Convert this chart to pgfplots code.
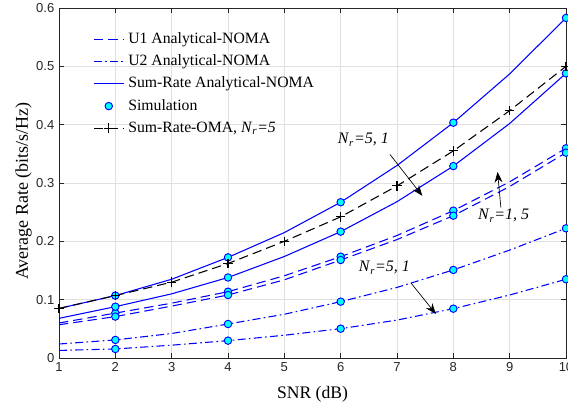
\documentclass[border=0pt]{standalone}
\usepackage{fontspec}
\setmainfont{Liberation Serif}
\newfontfamily\tickfont{Liberation Sans}
\usepackage{pgfplots}
\usepackage{pgfplotstable}
\pgfplotsset{compat=1.18}
\usetikzlibrary{arrows.meta}
\definecolor{simcyan}{rgb}{0,1,1}
\definecolor{lineblue}{rgb}{0,0,1}
\definecolor{axgray}{rgb}{0.15,0.15,0.15}

\pgfplotstableread{
x    sumA   sumB   uA     uB     vA     vB     oma
1    0.085  0.068  0.060  0.057  0.024  0.013  0.085
2    0.107  0.088  0.077  0.071  0.031  0.0155 0.107
3    0.135  0.110  0.094  0.089  0.042  0.022  0.130
4    0.1725 0.138  0.1137 0.108  0.0583 0.0298 0.162
5    0.215  0.174  0.141  0.134  0.075  0.039  0.200
6    0.267  0.2166 0.1737 0.168  0.0966 0.0503 0.242
7    0.330  0.268  0.210  0.203  0.121  0.065  0.295
8    0.4034 0.329  0.2526 0.244  0.151  0.0846 0.355
9    0.487  0.402  0.302  0.294  0.185  0.108  0.424
10   0.583  0.488  0.3595 0.352  0.2223 0.135  0.500
}\lines

\pgfplotstableread{
x    sumA   sumB   uA     uB     vA     vB
2    0.107  0.088  0.077  0.071  0.031  0.0155
4    0.1725 0.138  0.1137 0.108  0.0583 0.0298
6    0.267  0.2166 0.1737 0.168  0.0966 0.0503
8    0.4034 0.329  0.2526 0.244  0.151  0.0846
10   0.583  0.488  0.3595 0.352  0.2223 0.135
}\sims

\begin{document}
\begin{tikzpicture}
\begin{axis}[
  scale only axis,
  width=380.25pt, height=262.5pt,
  xmin=1, xmax=10, ymin=0, ymax=0.6,
  xtick={1,2,3,4,5,6,7,8,9,10},
  ytick={0,0.1,0.2,0.3,0.4,0.5,0.6},
  yticklabel style={/pgf/number format/fixed, /pgf/number format/precision=1},
  /pgf/number format/assume math mode=true,
  ticklabel style={font=\tickfont\fontsize{9.75}{11}\selectfont, text=axgray},
  grid=major,
  grid style={line width=0.4pt, black!12},
  axis line style={axgray, line width=0.5pt},
  tick style={axgray, line width=0.5pt},
  major tick length=4pt,
  xlabel={SNR (dB)},
  ylabel={Average Rate (bits/s/Hz)},
  every axis x label/.style={at={(axis description cs:0.5,0)}, yshift=-27pt, anchor=center, font=\fontsize{13.2}{15}\selectfont},
  every axis y label/.style={at={(axis description cs:0,0.477)}, xshift=-26.6pt, rotate=90, anchor=center, font=\fontsize{13.5}{15}\selectfont},
  legend cell align=left,
  legend style={at={(axis description cs:0.067,0.935)}, anchor=north west, draw=none, fill=none,
    inner sep=0pt, row sep=3.6pt,
    font=\fontsize{11.8}{13}\selectfont,
    nodes={inner xsep=3pt, inner ysep=1pt, text height=8.5pt, text depth=2.5pt}},
]
\addlegendimage{legend image code/.code={\draw[lineblue, line width=0.8pt, dash pattern=on 7pt off 3.8pt] (0pt,0pt) -- (22.5pt,0pt);}}
\addlegendentry{U1 Analytical-NOMA}
\addlegendimage{legend image code/.code={\draw[lineblue, line width=0.8pt, dash pattern=on 6pt off 2.5pt on 1.2pt off 2.5pt] (0pt,0pt) -- (22.5pt,0pt);}}
\addlegendentry{U2 Analytical-NOMA}
\addlegendimage{legend image code/.code={\draw[lineblue, line width=0.8pt] (0pt,0pt) -- (22.5pt,0pt);}}
\addlegendentry{Sum-Rate Analytical-NOMA}
\addlegendimage{legend image code/.code={\draw[lineblue, fill=simcyan, line width=0.7pt] (11.25pt,0pt) circle (2.8pt);}}
\addlegendentry{Simulation}
\addlegendimage{legend image code/.code={\draw[black, line width=0.8pt, dash pattern=on 7pt off 3.8pt] (0pt,0pt) -- (22.5pt,0pt); \draw[black, line width=0.8pt] (11.25pt,0pt) +(-3.6pt,0pt) -- +(3.6pt,0pt) (11.25pt,0pt) +(0pt,-3.6pt) -- +(0pt,3.6pt);}}
\addlegendentry{Sum-Rate-OMA, \textit{N}\textsubscript{\textit{r}}\textit{=5}}

% analytical lines
\addplot[lineblue, line width=0.8pt, dash pattern=on 7pt off 3.8pt, forget plot] table[x=x, y=uA] {\lines};
\addplot[lineblue, line width=0.8pt, dash pattern=on 7pt off 3.8pt, forget plot] table[x=x, y=uB] {\lines};
\addplot[lineblue, line width=0.8pt, dash pattern=on 6pt off 2.5pt on 1.2pt off 2.5pt, forget plot] table[x=x, y=vA] {\lines};
\addplot[lineblue, line width=0.8pt, dash pattern=on 6pt off 2.5pt on 1.2pt off 2.5pt, forget plot] table[x=x, y=vB] {\lines};
\addplot[lineblue, line width=0.8pt, forget plot] table[x=x, y=sumA] {\lines};
\addplot[lineblue, line width=0.8pt, forget plot] table[x=x, y=sumB] {\lines};

% simulation markers
\pgfplotsset{simstyle/.style={only marks, mark=*, mark size=2.8pt, mark options={fill=simcyan, draw=lineblue, line width=0.7pt, solid}, forget plot}}
\addplot[simstyle] table[x=x, y=uA] {\sims};
\addplot[simstyle] table[x=x, y=uB] {\sims};
\addplot[simstyle] table[x=x, y=vA] {\sims};
\addplot[simstyle] table[x=x, y=vB] {\sims};
\addplot[simstyle] table[x=x, y=sumA] {\sims};
\addplot[simstyle] table[x=x, y=sumB] {\sims};

% OMA
\addplot[black, line width=0.8pt, dash pattern=on 7pt off 3.8pt, mark=+, mark size=3.6pt, mark options={solid}, forget plot] table[x=x, y=oma] {\lines};

% annotations
\node[anchor=base west, inner sep=0pt, font=\fontsize{12}{14}\selectfont] at (axis cs:5.945,0.367) {\textit{N}\textsubscript{\textit{r}}\textit{=5, 1}};
\draw[-{Stealth[length=8pt,width=6pt]}, black, line width=0.5pt] (axis cs:6.875,0.349) -- (axis cs:7.45,0.278);

\node[anchor=base west, inner sep=0pt, font=\fontsize{12}{14}\selectfont] at (axis cs:8.435,0.2366) {\textit{N}\textsubscript{\textit{r}}\textit{=1, 5}};
\draw[-{Stealth[length=8pt,width=6pt]}, black, line width=0.5pt] (axis cs:8.844,0.258) -- (axis cs:8.785,0.319);

\node[anchor=base west, inner sep=0pt, font=\fontsize{12}{14}\selectfont] at (axis cs:6.318,0.148) {\textit{N}\textsubscript{\textit{r}}\textit{=5, 1}};
\draw[-{Stealth[length=8pt,width=6pt]}, black, line width=0.5pt] (axis cs:7.245,0.129) -- (axis cs:7.69,0.0754);
\end{axis}
\pgfresetboundingbox
\path[use as bounding box] ([xshift=-44.25pt,yshift=-39.75pt]current axis.south west) rectangle ([xshift=1.5pt,yshift=6pt]current axis.north east);
\end{tikzpicture}
\end{document}
